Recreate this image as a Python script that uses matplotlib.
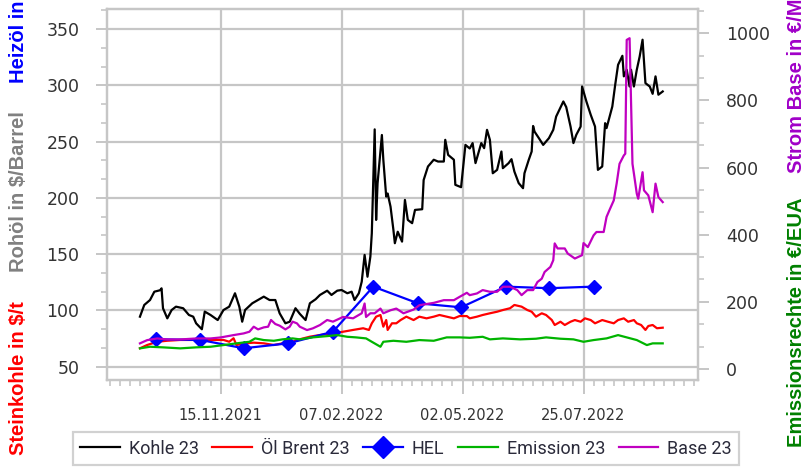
import matplotlib
matplotlib.use("Agg")
import matplotlib.pyplot as plt
import matplotlib.dates as mdates
from matplotlib.ticker import MultipleLocator, FixedLocator
import pandas as pd

# ---------------- data ----------------
BASE_DATE = "2021-11-15"   # day offsets below are relative to this date

kohle_days = [-56,-53,-49,-46,-42,-41,-40,-37,-34,-31,-26,-22,-19,-17,-13,-11,-7,-2,2,6,
              10,13,15,17,22,26,30,34,38,41,45,48,52,55,59,62,66,69,74,77,81,84,88,91,93,96,
              98,100,102,104,105,107,108,109,112,113,115,116,118,120,121,123,126,128,130,133,
              135,140,141,144,148,151,155,156,158,162,163,167,170,173,175,177,179,181,183,185,
              187,189,192,195,196,200,202,204,207,210,211,214,216,217,218,221,224,228,231,233,
              238,240,243,245,247,250,251,254,257,260,262,265,267,268,272,274,276,279,280,282,
              284,285,287,289,291,293,295,298,300,302,304,307]
kohle_vals = [94.5,104.9,109.3,116.7,118,119.7,102,93,100.4,103.4,102,96,94.5,88.6,83.3,99,96,
              91.5,100.4,103.4,115.3,103.4,90,100.4,106.4,109.3,112.3,109.3,109.3,97.5,88.6,90,
              102,97,91.5,106.4,110,113.8,117.6,113.8,117.6,118.2,115.3,116.7,109.3,115.3,125.6,
              149.4,130,147.9,168.7,261,180.5,213,256,234,201.2,204,192.3,171.6,159.8,170,161.2,
              198.3,180.5,177.6,189.4,190,216,228,234,232.4,232.4,251.7,238.3,234,211.7,209.6,
              247.2,244,248.8,231,240,248.8,244.3,260.6,251.7,222,225,241.3,226.5,231,234.5,
              223.5,213.2,208.7,222,234,241.3,264,259,253.2,247.2,253.2,260.6,272.4,285.8,280.8,
              263.5,248.8,256.2,263.5,299.1,285.8,274,263.5,225,228,266.5,262.1,281.3,300.6,
              318.4,326.4,308.1,314,299.1,314,299.1,314,325.8,340.7,302.1,299.1,292.6,308.1,
              291.8,294.7]

brent_days = [-56,-51,-44,-37,-28,-17,-7,2,6,9,11,17,23,30,37,43,50,55,62,69,78,85,92,99,103,
              105,108,111,113,115,116,119,122,125,129,134,138,143,148,152,157,162,166,171,173,
              178,182,187,192,196,201,204,209,213,216,219,223,226,230,232,236,239,243,246,250,
              253,257,260,265,269,273,276,280,283,287,289,292,295,297,300,303,307]
brent_vals = [66.4,69.3,72.2,73.1,73.8,73.8,73.8,73.8,72.2,75.3,69.3,70.8,71.4,70.8,69.3,70.8,
              72.2,74.4,76.7,78.2,79.7,81.1,82.7,84.2,82.7,88.6,94.5,96,85.6,91.5,82.7,88.6,88.6,
              91.5,94.5,91.5,94.5,93,94.5,96,94.5,93,95.1,95,93,94.5,96,97.5,98.9,100.4,102,
              104.9,103.4,100.4,98.9,94.5,97.5,96,91.5,87.1,90,87.1,90,91.5,90,93,91.5,88.6,
              91.5,90,88.6,91.5,93,90,91.5,88.6,87.1,82.7,86.2,87.1,84.2,84.7]

hel_dates = ["2021-10-01","2021-11-01","2021-12-01","2022-01-01","2022-02-01","2022-03-01",
             "2022-04-01","2022-05-01","2022-06-01","2022-07-01","2022-08-01"]
hel_vals = [74.4,73.8,66.4,70.8,81.1,121.2,106.4,102.8,121.2,119.8,121.2]

emission_days = [-56,-49,-40,-28,-17,-7,2,11,20,24,30,37,43,50,55,64,74,81,88,94,101,105,111,
                 113,120,129,138,148,157,166,173,182,187,196,208,219,226,236,245,252,259,268,
                 276,282,289,296,300,307]
emission_vals = [61.5,66.3,64.5,61.5,64.5,66.3,71.3,76.4,81.1,91.2,86.2,84.1,88.3,91.2,88.3,
                 94.2,98,101,96,94.2,91.2,81.1,66.3,81.1,84.1,81.1,86.2,84.1,94.2,94.2,93,96,
                 88.3,91.2,88.3,90.2,94.2,90.2,88.3,81.1,86.2,91.2,101,94.2,86.2,71.3,76.4,76.4]

base_days = [-56,-51,-44,-37,-28,-17,-7,0,9,16,20,23,26,30,33,35,38,41,45,48,50,53,55,60,64,
             69,74,78,85,92,98,100,101,104,107,111,113,118,122,127,134,138,148,155,162,166,171,
             173,178,182,187,192,196,201,206,209,213,217,220,223,225,229,231,232,234,239,241,
             246,251,252,255,259,261,266,268,270,273,275,277,280,281,282,284,286,287,289,290,
             293,294,297,300,302,304,307]
base_vals = [76.4,86,91,88,88,91,91,94,101,106,111,126,118,124,126,146,134,129,118,126,141,136,
             126,116,121,131,146,141,155,151,166,195,155,166,166,180,166,175,180,166,177,190,197,
             205,205,215,227,220,225,235,230,230,245,245,235,220,235,235,259,269,289,304,324,
             374,359,359,344,329,339,375,363,398,408,408,453,473,502,552,611,636,641,980,985,
             611,582,522,507,586,532,517,467,552,512,497]

x_tick_dates = ["2021-11-15", "2022-02-07", "2022-05-02", "2022-07-25"]
x_range = ["2021-08-28 08:00", "2022-10-12 12:00"]
left_range = (38.2, 368.0)
right_range = (-32.7, 1072.0)

legend_labels = ["Kohle 23", "Öl Brent 23", "HEL", "Emission 23", "Base 23"]


def to_dates(days):
    return pd.Timestamp(BASE_DATE) + pd.to_timedelta(days, unit="D")


# ---------------- figure ----------------
W, H = 807, 468
fig = plt.figure(figsize=(W / 100, H / 100), dpi=100)
ax = fig.add_axes([107.3 / W, 1 - 380 / H, (698 - 107.3) / W, (380 - 9) / H])
ax2 = ax.twinx()

GRID = "#c6c6c6"
TXT = "#333333"
LW = 1.6

lk, = ax.plot(to_dates(kohle_days), kohle_vals, color="black", lw=LW, zorder=3)
lb, = ax.plot(to_dates(brent_days), brent_vals, color="#ff0000", lw=LW, zorder=3)
lh, = ax.plot(pd.to_datetime(hel_dates), hel_vals, color="#0000ff", lw=LW, marker="D",
              ms=6.8, zorder=4)
le, = ax2.plot(to_dates(emission_days), emission_vals, color="#00b400", lw=LW)
lbs, = ax2.plot(to_dates(base_days), base_vals, color="#c000c0", lw=LW)

ax.set_xlim(pd.Timestamp(x_range[0]), pd.Timestamp(x_range[1]))
ax.set_ylim(*left_range)
ax2.set_ylim(*right_range)

ax.yaxis.set_major_locator(MultipleLocator(50))
ax.yaxis.set_minor_locator(MultipleLocator(50 / 3))
ax2.yaxis.set_major_locator(MultipleLocator(200))
ax2.yaxis.set_minor_locator(MultipleLocator(200 / 3))

ax.xaxis.set_major_locator(FixedLocator(mdates.date2num(pd.to_datetime(x_tick_dates))))
ax.xaxis.set_major_formatter(mdates.DateFormatter("%d.%m.%Y"))
ax.xaxis.set_minor_locator(mdates.WeekdayLocator(byweekday=mdates.MO))

ax.grid(True, which="major", color=GRID, lw=1.6, zorder=0)
ax.set_axisbelow(True)

for a in (ax, ax2):
    for s in a.spines.values():
        s.set_color(GRID)
        s.set_linewidth(1.6)

ax.tick_params(axis="y", which="major", length=8, width=1.4, color=GRID, pad=12,
               labelsize=12.5, labelcolor=TXT)
ax.tick_params(axis="y", which="minor", length=4, width=1.2, color=GRID)
ax2.tick_params(axis="y", which="major", length=8, width=1.4, color=GRID, pad=12,
                labelsize=12.5, labelcolor=TXT)
ax2.tick_params(axis="y", which="minor", length=4, width=1.2, color=GRID)
ax.tick_params(axis="x", which="major", length=10, width=1.4, color=GRID, pad=10,
               labelsize=10.5, labelcolor=TXT)
ax.tick_params(axis="x", which="minor", length=4, width=1.2, color=GRID)
for lab in ax.get_yticklabels() + ax2.get_yticklabels():
    lab.set_fontfamily("DejaVu Sans")
for lab in ax.get_xticklabels():
    lab.set_fontfamily("DejaVu Sans")

# axis titles (multi-coloured, rotated)
lbl_font = dict(family=["Liberation Sans", "DejaVu Sans"], weight="bold", size=14.5,
                rotation=90, ha="center", va="bottom")
fig.text(19 / W, 1 - 455 / H, "Steinkohle in $/t", color="#ff0000", **lbl_font)
fig.text(19 / W, 1 - 272 / H, "Rohöl in $/Barrel", color="#808080", **lbl_font)
fig.text(19 / W, 1 - 83 / H, "Heizöl in €/hl", color="#0000ff", **lbl_font)
fig.text(797 / W, 1 - 447 / H, "Emissionsrechte in €/EUA", color="#008000", **lbl_font)
fig.text(797 / W, 1 - 173 / H, "Strom Base in €/MWh", color="#a000c8", **lbl_font)

leg = fig.legend([lk, lb, lh, le, lbs], legend_labels, ncol=5,
                 loc="upper left", bbox_to_anchor=(72.7 / W, 1 - 432.3 / H),
                 bbox_transform=fig.transFigure, borderaxespad=0,
                 prop=dict(family=["Roboto", "DejaVu Sans"], size=13),
                 handlelength=2.2, handletextpad=0.5, columnspacing=0.75,
                 borderpad=0.4, markerscale=1.7, frameon=True, fancybox=False)
leg.get_frame().set_edgecolor(GRID)
leg.get_frame().set_linewidth(1.6)
for t in leg.get_texts():
    t.set_color("#2a2a3a")

fig.savefig("out.png", dpi=100)
